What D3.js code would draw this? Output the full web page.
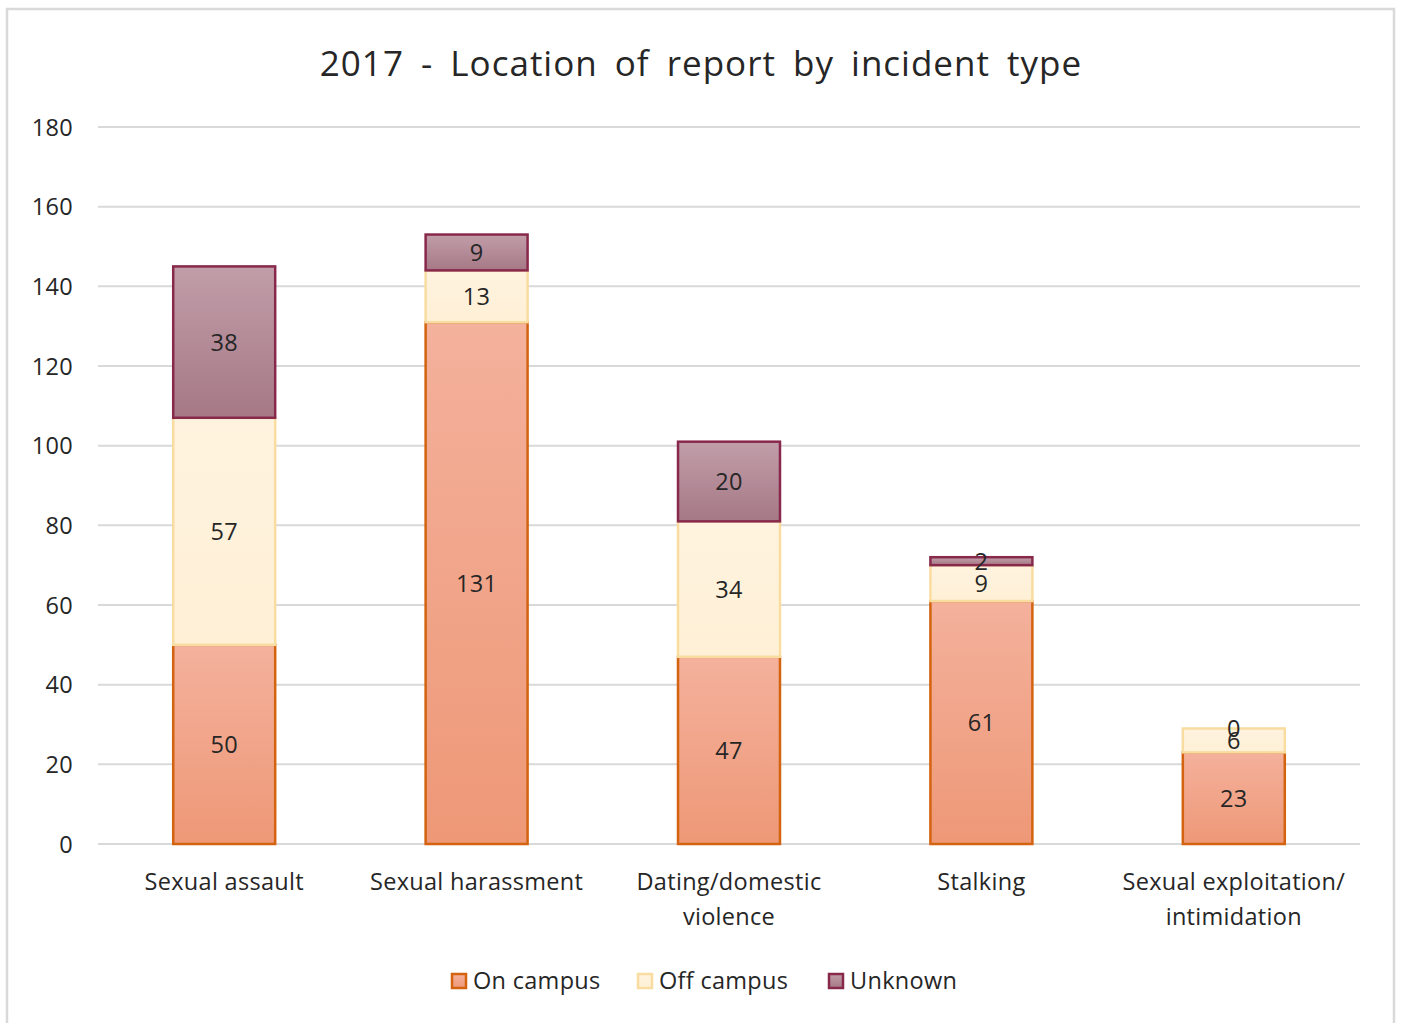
<!DOCTYPE html>
<html><head><meta charset="utf-8">
<script src="https://cdn.jsdelivr.net/npm/d3@7/dist/d3.min.js"></script>
<style>
html,body{margin:0;padding:0;background:#fff;}
svg text{font-family:"Open Sans",Lato,sans-serif;fill:#262626;letter-spacing:0.3px;}
</style></head>
<body>
<svg id="chart" width="1401" height="1023"></svg>
<script>
const title = "2017 - Location of report by incident type";
const categories = [["Sexual assault"],["Sexual harassment"],["Dating/domestic","violence"],["Stalking"],["Sexual exploitation/","intimidation"]];
const seriesNames = ["On campus","Off campus","Unknown"];
const onCampus = [50,131,47,61,23];
const offCampus = [57,13,34,9,6];
const unknown = [38,9,20,2,0];
const yTicks = [0,20,40,60,80,100,120,140,160,180];

const FONT = "'Open Sans',Lato,sans-serif";
const FS = "23.5px";
const svg = d3.select("#chart");
// outer frame
svg.append("rect").attr("x",7).attr("y",9).attr("width",1387).attr("height",1030)
  .attr("fill","#fff").attr("stroke","#d9d9d9").attr("stroke-width",2.5);

const x0=98,x1=1360,y0=844,y1=127;
const x = d3.scaleBand().domain(d3.range(categories.length)).range([x0,x1]).paddingInner(0.596).paddingOuter(0.298);
const y = d3.scaleLinear().domain([0,180]).range([y0,y1]);

const defs = svg.append("defs");
const styles = [
  {top:"#f4b19c",bot:"#ee9877",stroke:"#d3630f",id:"g0"},
  {top:"#fff3df",bot:"#fff0d6",stroke:"#f9dda0",id:"g1"},
  {top:"#c19ea9",bot:"#a67886",stroke:"#88294c",id:"g2"}
];
styles.forEach(s=>{
  const g=defs.append("linearGradient").attr("id",s.id).attr("x1",0).attr("y1",0).attr("x2",0).attr("y2",1);
  g.append("stop").attr("offset","0%").attr("stop-color",s.top);
  g.append("stop").attr("offset","100%").attr("stop-color",s.bot);
});

// gridlines
svg.append("g").selectAll("line").data(yTicks).join("line")
  .attr("x1",x0).attr("x2",x1).attr("y1",d=>y(d)).attr("y2",d=>y(d))
  .attr("stroke","#d9d9d9").attr("stroke-width",2);

// y axis labels
const yAxis = d3.axisLeft(y).tickValues(yTicks).tickSize(0).tickPadding(0);
const ya = svg.append("g").attr("transform","translate(73,0)").call(yAxis);
ya.select(".domain").remove();
ya.selectAll("text").style("font-family",FONT).style("font-size",FS).attr("fill","#262626").attr("dy","0.35em");

// stacked data
const rows = categories.map((c,i)=>({i, "On campus":onCampus[i],"Off campus":offCampus[i],"Unknown":unknown[i]}));
const stack = d3.stack().keys(seriesNames)(rows);

stack.forEach((layer,k)=>{
  const s=styles[k];
  svg.append("g").selectAll("rect").data(layer.filter(d=>d[1]-d[0]>0)).join("rect")
    .attr("x",d=>x(d.data.i)).attr("width",x.bandwidth())
    .attr("y",d=>y(d[1])).attr("height",d=>y(d[0])-y(d[1]))
    .attr("fill",`url(#${s.id})`).attr("stroke",s.stroke).attr("stroke-width",2.5);
});
// labels
stack.forEach((layer,k)=>{
  svg.append("g").selectAll("text").data(layer).join("text")
    .attr("x",d=>x(d.data.i)+x.bandwidth()/2)
    .attr("y",d=>(y(d[0])+y(d[1]))/2)
    .attr("dy","0.36em").attr("text-anchor","middle")
    .style("font-size",FS)
    .text(d=>d[1]-d[0]);
});

// x labels
const xl = svg.append("g");
categories.forEach((lines,i)=>{
  const t=xl.append("text").attr("text-anchor","middle").style("font-size",FS)
    .attr("x",x(i)+x.bandwidth()/2).attr("y",890);
  lines.forEach((ln,j)=>t.append("tspan").attr("x",x(i)+x.bandwidth()/2).attr("dy",j===0?0:35).text(ln));
});

// title
svg.append("text").attr("x",701).attr("y",76).attr("text-anchor","middle")
  .style("font-size","35px").style("letter-spacing","1px").style("word-spacing","7px").text(title);

// legend
const legX=[451,637,828];
seriesNames.forEach((n,k)=>{
  const s=styles[k];
  svg.append("rect").attr("x",legX[k]+1).attr("y",974).attr("width",14).attr("height",14)
    .attr("fill",`url(#${s.id})`).attr("stroke",s.stroke).attr("stroke-width",2.5);
  svg.append("text").attr("x",legX[k]+22).attr("y",981).attr("dy","0.35em")
    .style("font-size",FS).text(n);
});
</script>
</body></html>
